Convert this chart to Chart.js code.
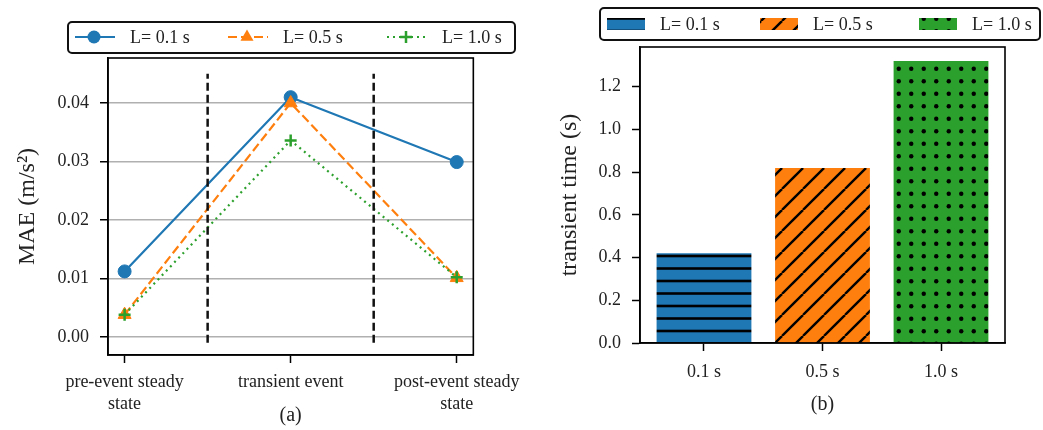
<!DOCTYPE html>
<html>
<head>
<meta charset="utf-8">
<script src="https://cdn.jsdelivr.net/npm/chart.js@4.4.1/dist/chart.umd.min.js"></script>
<style>
  html, body { margin: 0; padding: 0; background: #fff; }
  #wrap { position: relative; width: 1043px; height: 430px; overflow: hidden; }
  canvas { position: absolute; top: 0; }
  #maeChart { left: 0; }
  #timeChart { left: 530px; }
</style>
</head>
<body>
<div id="wrap">
  <canvas id="maeChart" width="530" height="430"></canvas>
  <canvas id="timeChart" width="513" height="430"></canvas>
</div>
<script>
// data
const stages = ['pre-event steady state', 'transient event', 'post-event steady state'];
const seriesLabels = ['L= 0.1 s', 'L= 0.5 s', 'L= 1.0 s'];
const mae01 = [0.0112, 0.0410, 0.0299];
const mae05 = [0.0038, 0.0400, 0.0101];
const mae10 = [0.0038, 0.0336, 0.0102];
const dividers = [0.5, 1.5];
const maeTicks = [0, 0.01, 0.02, 0.03, 0.04];

const lengths = ['0.1 s', '0.5 s', '1.0 s'];
const transientTime = [0.42, 0.82, 1.32];
const timeTicks = [0, 0.2, 0.4, 0.6, 0.8, 1.0, 1.2];

const colors = ['#1f77b4', '#ff7f0e', '#2ca02c'];
const textColor = '#222';
const serif = "'Liberation Serif', 'Times New Roman', serif";

Chart.defaults.font.family = serif;
Chart.defaults.color = textColor;

function wrapLabel(text, width = 17) {
  const lines = [''];
  text.split(' ').forEach(w => {
    const cur = lines[lines.length - 1];
    if (cur && (cur + ' ' + w).length > width) lines.push(w);
    else lines[lines.length - 1] = cur ? cur + ' ' + w : w;
  });
  return lines.length > 1 ? lines : lines[0];
}

const lineStyles = [
  { dash: [], point: 'circle', radius: 6.5, pw: 1 },
  { dash: [9, 4], point: 'triangle', radius: 7.5, pw: 1 },
  { dash: [2, 4], point: 'cross', radius: 6, pw: 2.5 }
];

function drawMarker(ctx, style, x, y, r, color) {
  ctx.save();
  ctx.fillStyle = color;
  ctx.strokeStyle = color;
  ctx.setLineDash([]);
  ctx.beginPath();
  if (style === 'circle') {
    ctx.arc(x, y, r, 0, Math.PI * 2);
    ctx.fill();
  } else if (style === 'triangle') {
    let a = 0;
    ctx.moveTo(x + Math.sin(a) * r, y - Math.cos(a) * r);
    a += Math.PI * 2 / 3;
    ctx.lineTo(x + Math.sin(a) * r, y - Math.cos(a) * r);
    a += Math.PI * 2 / 3;
    ctx.lineTo(x + Math.sin(a) * r, y - Math.cos(a) * r);
    ctx.closePath();
    ctx.fill();
  } else {
    ctx.lineWidth = 2.5;
    ctx.moveTo(x, y - r); ctx.lineTo(x, y + r);
    ctx.moveTo(x - r, y); ctx.lineTo(x + r, y);
    ctx.stroke();
  }
  ctx.restore();
}

const frameBox = {
  id: 'frameBox',
  afterDatasetsDraw(chart) {
    const { ctx, chartArea: a } = chart;
    ctx.save();
    ctx.strokeStyle = '#000';
    ctx.lineWidth = 1.6;
    ctx.strokeRect(a.left, a.top, a.right - a.left, a.bottom - a.top);
    ctx.restore();
  }
};

const dividerSpan = [-0.001, 0.045];
const dividerLines = {
  id: 'dividerLines',
  afterDatasetsDraw(chart) {
    const { ctx, scales: { x, y } } = chart;
    ctx.save();
    ctx.strokeStyle = '#111';
    ctx.lineWidth = 2.5;
    ctx.setLineDash([8, 4]);
    dividers.forEach(d => {
      const px = x.getPixelForValue(d);
      ctx.beginPath();
      ctx.moveTo(px, y.getPixelForValue(dividerSpan[0]));
      ctx.lineTo(px, y.getPixelForValue(dividerSpan[1]));
      ctx.stroke();
    });
    ctx.restore();
  }
};

function legendFrame(ctx, x, y, w, h) {
  ctx.save();
  ctx.strokeStyle = '#111';
  ctx.lineWidth = 2;
  ctx.beginPath();
  ctx.roundRect(x, y, w, h, 4);
  ctx.stroke();
  ctx.restore();
}

const legendSlots = [75, 228, 387];

const lineLegend = {
  id: 'lineLegend',
  afterDraw(chart) {
    const ctx = chart.ctx;
    legendFrame(ctx, 68, 22, 447, 31);
    const cy = 37;
    chart.data.datasets.forEach((ds, k) => {
      const s = legendSlots[k], st = lineStyles[k];
      ctx.save();
      ctx.strokeStyle = colors[k];
      ctx.lineWidth = 2.2;
      ctx.setLineDash(st.dash);
      ctx.beginPath();
      ctx.moveTo(s, cy); ctx.lineTo(s + 40, cy);
      ctx.stroke();
      ctx.restore();
      drawMarker(ctx, st.point, s + 19, cy, st.radius, colors[k]);
      ctx.save();
      ctx.fillStyle = textColor;
      ctx.font = '18px ' + serif;
      ctx.textBaseline = 'middle';
      ctx.fillText(ds.label, s + 55, cy + 1);
      ctx.restore();
    });
  }
};

new Chart(document.getElementById('maeChart'), {
  type: 'line',
  data: {
    datasets: [mae01, mae05, mae10].map((vals, k) => ({
      label: seriesLabels[k],
      data: vals.map((v, i) => ({ x: i, y: v })),
      borderColor: colors[k],
      backgroundColor: colors[k],
      borderWidth: 2.2,
      borderDash: lineStyles[k].dash,
      pointStyle: lineStyles[k].point,
      pointRadius: lineStyles[k].radius,
      pointBorderWidth: lineStyles[k].pw,
      order: 2 - k,
      tension: 0
    }))
  },
  options: {
    responsive: false,
    animation: false,
    layout: { padding: { left: 0, right: 56, top: 58, bottom: 0 } },
    plugins: { legend: { display: false }, tooltip: { enabled: false } },
    scales: {
      x: {
        type: 'linear', min: -0.1, max: 2.1,
        afterBuildTicks: s => { s.ticks = stages.map((_, i) => ({ value: i })); },
        afterFit: s => { s.height = 75; },
        ticks: {
          callback: v => wrapLabel(stages[v]),
          font: { size: 18, lineHeight: 1.25 },
          padding: 8, maxRotation: 0, autoSkip: false
        },
        grid: { drawOnChartArea: false, tickLength: 8, tickColor: '#000', tickWidth: 1.5 },
        border: { color: '#000', width: 1.6 },
        title: { display: true, text: '(a)', font: { size: 20, lineHeight: 1.2 }, padding: { top: 0, bottom: 2 } }
      },
      y: {
        min: -0.0031, max: 0.0477,
        afterBuildTicks: s => { s.ticks = maeTicks.map(v => ({ value: v })); },
        afterFit: s => { s.width = 108; },
        ticks: { callback: v => v.toFixed(2), font: { size: 18 }, padding: 11 },
        grid: { color: '#b0b0b0', lineWidth: 1.5, tickLength: 8, tickColor: '#000', tickWidth: 1.5 },
        border: { color: '#000', width: 1.6 },
        title: { display: true, text: 'MAE (m/s²)', font: { size: 24, lineHeight: 1.2 }, padding: { top: 13, bottom: 0 } }
      }
    }
  },
  plugins: [dividerLines, frameBox, lineLegend]
});

// hatched fills for the bars
const timeCtx = document.getElementById('timeChart').getContext('2d');
function makeHatch(w, h, bg, draw) {
  const c = document.createElement('canvas');
  c.width = w; c.height = h;
  const g = c.getContext('2d');
  g.fillStyle = bg;
  g.fillRect(0, 0, w, h);
  g.strokeStyle = '#000';
  g.fillStyle = '#000';
  draw(g, w, h);
  return timeCtx.createPattern(c, 'repeat');
}
const hatches = [
  makeHatch(8, 25, colors[0], g => {
    g.lineWidth = 2.6;
    [6, 18.5].forEach(y => { g.beginPath(); g.moveTo(0, y); g.lineTo(8, y); g.stroke(); });
  }),
  makeHatch(21, 21, colors[1], (g, w, h) => {
    g.lineWidth = 2.4;
    [-w, 0, w].forEach(x0 => { g.beginPath(); g.moveTo(x0, h); g.lineTo(x0 + w, 0); g.stroke(); });
  }),
  makeHatch(25, 25, colors[2], g => {
    [6.25, 18.75].forEach(x => [6.25, 18.75].forEach(y => {
      g.beginPath(); g.arc(x, y, 2.2, 0, Math.PI * 2); g.fill();
    }));
  })
];

const barLegend = {
  id: 'barLegend',
  afterDraw(chart) {
    const ctx = chart.ctx;
    legendFrame(ctx, 70, 8, 440, 32);
    const cy = 24;
    seriesLabels.forEach((lab, k) => {
      const s = legendSlots[k] + 2;
      ctx.save();
      ctx.fillStyle = hatches[k];
      ctx.fillRect(s, cy - 6, 38, 12);
      ctx.fillStyle = textColor;
      ctx.font = '18px ' + serif;
      ctx.textBaseline = 'middle';
      ctx.fillText(lab, s + 53, cy + 1);
      ctx.restore();
    });
  }
};

new Chart(timeCtx, {
  type: 'bar',
  data: {
    datasets: [{
      label: 'transient time',
      data: transientTime.map((v, i) => ({ x: i, y: v })),
      backgroundColor: hatches,
      borderWidth: 0,
      barPercentage: 0.8,
      categoryPercentage: 1
    }]
  },
  options: {
    responsive: false,
    animation: false,
    layout: { padding: { left: 0, right: 38, top: 47, bottom: 0 } },
    plugins: { legend: { display: false }, tooltip: { enabled: false } },
    scales: {
      x: {
        type: 'linear', min: -0.54, max: 2.54, offset: false,
        afterBuildTicks: s => { s.ticks = lengths.map((_, i) => ({ value: i })); },
        afterFit: s => { s.height = 87; },
        ticks: { callback: v => lengths[v], font: { size: 18, lineHeight: 1.25 }, padding: 10, maxRotation: 0, autoSkip: false },
        grid: { offset: false, drawOnChartArea: false, tickLength: 8, tickColor: '#000', tickWidth: 1.5 },
        border: { color: '#000', width: 1.6 },
        title: { display: true, text: '(b)', font: { size: 20, lineHeight: 1.2 }, padding: { top: 0, bottom: 13 } }
      },
      y: {
        min: 0, max: 1.386,
        afterBuildTicks: s => { s.ticks = timeTicks.map(v => ({ value: v })); },
        afterFit: s => { s.width = 110; },
        ticks: { callback: v => v.toFixed(1), font: { size: 18 }, padding: 11 },
        grid: { drawOnChartArea: false, tickLength: 8, tickColor: '#000', tickWidth: 1.5 },
        border: { color: '#000', width: 1.6 },
        title: { display: true, text: 'transient time (s)', font: { size: 24, lineHeight: 1.2 }, padding: { top: 25, bottom: 0 } }
      }
    }
  },
  plugins: [frameBox, barLegend]
});
</script>
</body>
</html>
